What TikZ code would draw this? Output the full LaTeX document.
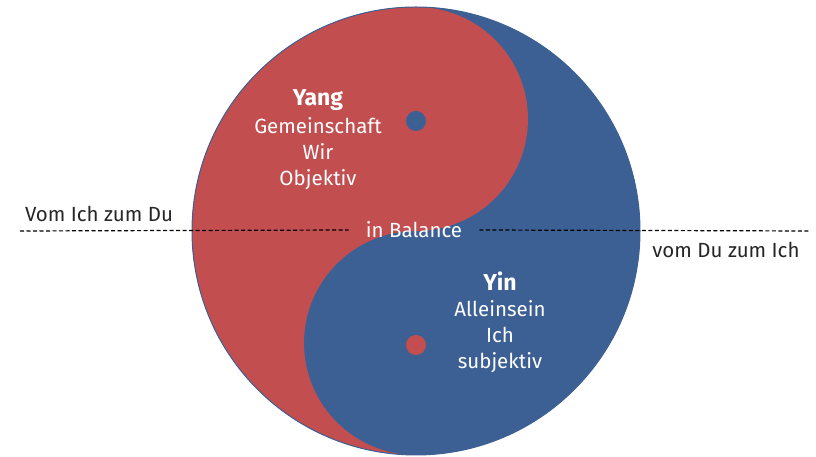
\documentclass[tikz,border=0pt]{standalone}
\usepackage{fontspec}
\setmainfont{Fira Sans}
\definecolor{yangred}{RGB}{194,78,80}
\definecolor{yinblue}{RGB}{60,95,148}
\tikzset{
	inlabel/.style={text=white, align=center, font=\fontsize{20.5}{26}\selectfont},
	outlabel/.style={text=black!85, font=\fontsize{20.5}{24}\selectfont},
	axis/.style={line width=1.2pt, dash pattern={on 4pt off 2.5pt}}
}
\newcommand{\headword}[1]{{\fontsize{23}{26}\selectfont\bfseries #1}}

\begin{document}
\begin{tikzpicture}[x=1pt, y=1pt]
			\useasboundingbox (0, 0) rectangle (816, 457);
			% whole disc, blue half
			\fill[yinblue] (416, 226) circle[radius=224];
			% red half with its two small arcs
			\fill[yangred] (416, 450) arc[start angle=90, end angle=270, radius=224]
				arc[start angle=-90, end angle=-270, radius=112]
				arc[start angle=-90, end angle=90, radius=112] -- cycle;
			\draw[yinblue, line width=1pt] (416, 226) circle[radius=224];
			% the two dots
			\node[circle, fill=yinblue, minimum size=20pt, inner sep=0pt](D1) at (416, 336){};
			\node[circle, fill=yangred, minimum size=20pt, inner sep=0pt](D2) at (416, 112){};
			\node[inlabel](yang) at (318, 317){\headword{Yang}\\[2pt]Gemeinschaft\\Wir\\Objektiv};
			\node[inlabel](yin) at (500, 135){\headword{Yin}\\[0pt]Alleinsein\\Ich\\subjektiv};
			\node[inlabel, inner xsep=17pt](balance) at (414, 227){in Balance};
			\coordinate (L1) at (20, 226);
			\coordinate (R1) at (810, 226);
			\draw[axis] (L1) -- (balance.west);
			\draw[axis] (balance.east) -- (R1);
			\node[outlabel](vom1) at (99, 243){Vom Ich zum Du};
			\node[outlabel](vom2) at (726, 207){vom Du zum Ich};
		\end{tikzpicture}
\end{document}
